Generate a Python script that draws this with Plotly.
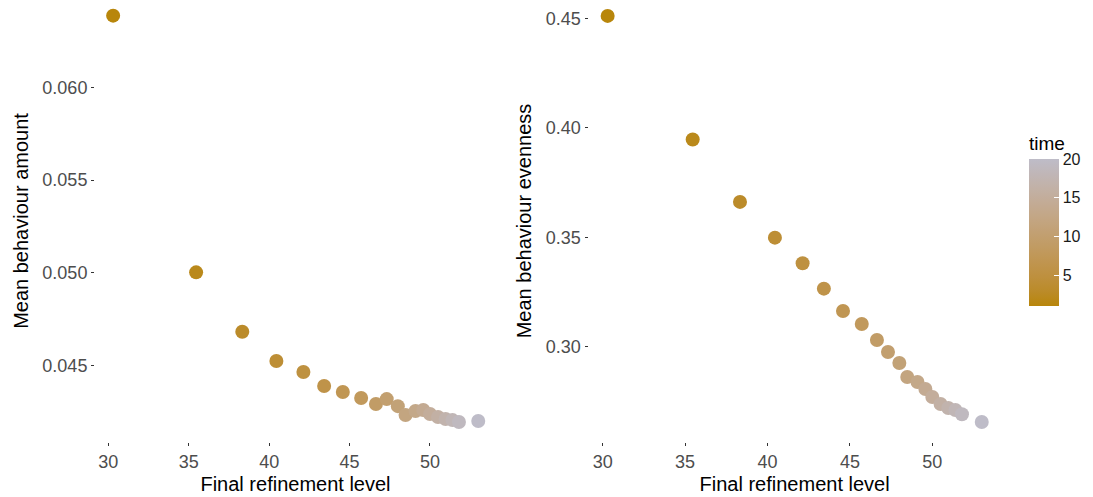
import plotly.graph_objects as go
import numpy as np

time = list(range(1, 21))
refinement = [30.3, 35.46, 38.33, 40.45, 42.13, 43.42, 44.58, 45.72, 46.64, 47.31,
              48.0, 48.48, 49.1, 49.58, 50.0, 50.5, 50.97, 51.4, 51.8, 53.0]
amount = [0.06386, 0.05003, 0.04683, 0.04525, 0.04466, 0.04391, 0.04358, 0.04326,
          0.04294, 0.04320, 0.04282, 0.04234, 0.04256, 0.04261, 0.04240, 0.04224,
          0.04213, 0.04207, 0.04197, 0.04202]
evenness = [0.4511, 0.39466, 0.36613, 0.34982, 0.33812, 0.32652, 0.31631, 0.31037,
            0.30306, 0.29758, 0.29256, 0.28616, 0.28388, 0.28068, 0.27703, 0.27383,
            0.27200, 0.27109, 0.26917, 0.26561]

LOW = "#B8860B"
HIGH = "#BEBCC8"

# Lab interpolation like ggplot2's gradient
def hex2rgb(h):
    h = h.lstrip('#')
    return [int(h[i:i+2], 16) / 255 for i in (0, 2, 4)]

def srgb2lin(c):
    return c / 12.92 if c <= 0.04045 else ((c + 0.055) / 1.055) ** 2.4

def lin2srgb(c):
    c = max(0, min(1, c))
    return 12.92 * c if c <= 0.0031308 else 1.055 * c ** (1 / 2.4) - 0.055

M = np.array([[0.4124, 0.3576, 0.1805], [0.2126, 0.7152, 0.0722], [0.0193, 0.1192, 0.9505]])
Minv = np.linalg.inv(M)
WP = np.array([0.95047, 1.0, 1.08883])

def f(t):
    return t ** (1 / 3) if t > 0.008856 else 7.787 * t + 16 / 116

def finv(t):
    return t ** 3 if t ** 3 > 0.008856 else (t - 16 / 116) / 7.787

def rgb2lab(rgb):
    xyz = M @ np.array([srgb2lin(c) for c in rgb]) / WP
    fx, fy, fz = [f(t) for t in xyz]
    return np.array([116 * fy - 16, 500 * (fx - fy), 200 * (fy - fz)])

def lab2hex(lab):
    L, a, b = lab
    fy = (L + 16) / 116
    fx = fy + a / 500
    fz = fy - b / 200
    xyz = np.array([finv(fx), finv(fy), finv(fz)]) * WP
    rgb = Minv @ xyz
    return '#%02x%02x%02x' % tuple(int(round(lin2srgb(c) * 255)) for c in rgb)

l1, l2 = rgb2lab(hex2rgb(LOW)), rgb2lab(hex2rgb(HIGH))
colorscale = [[t, lab2hex(l1 + (l2 - l1) * t)] for t in np.linspace(0, 1, 11)]

fig = go.Figure()
marker_common = dict(size=14, color=time, colorscale=colorscale, cmin=1, cmax=20, line=dict(width=0))

fig.add_trace(go.Scatter(x=refinement, y=amount, mode='markers',
                         marker=dict(**marker_common, showscale=False),
                         xaxis='x', yaxis='y', showlegend=False))
fig.add_trace(go.Scatter(x=refinement, y=evenness, mode='markers',
                         marker=dict(**marker_common, showscale=True,
                                     colorbar=dict(
                                         title=dict(text='time', side='top',
                                                    font=dict(size=19, color='#000000')),
                                         x=1029 / 1093, xanchor='left',
                                         y=(442 - 133) / 442, yanchor='top',
                                         len=173, lenmode='pixels',
                                         thickness=30, thicknessmode='pixels',
                                         outlinewidth=0,
                                         tickvals=[5, 10, 15, 20],
                                         ticks='inside', tickcolor='white', ticklen=5,
                                         tickfont=dict(size=16, color='#1a1a1a'),
                                         xpad=0, ypad=0)),
                         xaxis='x2', yaxis='y2', showlegend=False))

axis_common = dict(showgrid=False, zeroline=False, showline=False,
                   ticks='outside', ticklen=3, tickcolor='#333333', tickwidth=1,
                   tickfont=dict(size=18, color='#4D4D4D'))
title_font = dict(size=20, color='#000000')

fig.update_layout(
    width=1093, height=497,
    margin=dict(l=0, r=0, t=0, b=55, autoexpand=False),
    paper_bgcolor='white', plot_bgcolor='white',
    font=dict(family='Liberation Sans, Arial, sans-serif'),
    xaxis=dict(domain=[95 / 1093, 496 / 1093], range=[29.173, 54.104],
               tickvals=[30, 35, 40, 45, 50],
               title=dict(text='Final refinement level', font=title_font, standoff=6),
               **axis_common),
    yaxis=dict(domain=[0, 1], range=[0.040889, 0.064704],
               tickvals=[0.045, 0.050, 0.055, 0.060], tickformat='.3f',
               title=dict(text='Mean behaviour amount', font=title_font, standoff=8),
               **axis_common),
    xaxis2=dict(domain=[588.5 / 1093, 1000.7 / 1093], range=[29.138, 54.15],
                tickvals=[30, 35, 40, 45, 50], anchor='y2',
                title=dict(text='Final refinement level', font=title_font, standoff=6),
                **axis_common),
    yaxis2=dict(domain=[0, 1], range=[0.25647, 0.45836], anchor='x2',
                tickvals=[0.30, 0.35, 0.40, 0.45], tickformat='.2f',
                title=dict(text='Mean behaviour evenness', font=title_font, standoff=8),
                **axis_common),
)

fig.write_html("out.html", config={'displayModeBar': False},
               post_script="document.body.style.margin='0px';document.body.style.overflow='hidden';")
